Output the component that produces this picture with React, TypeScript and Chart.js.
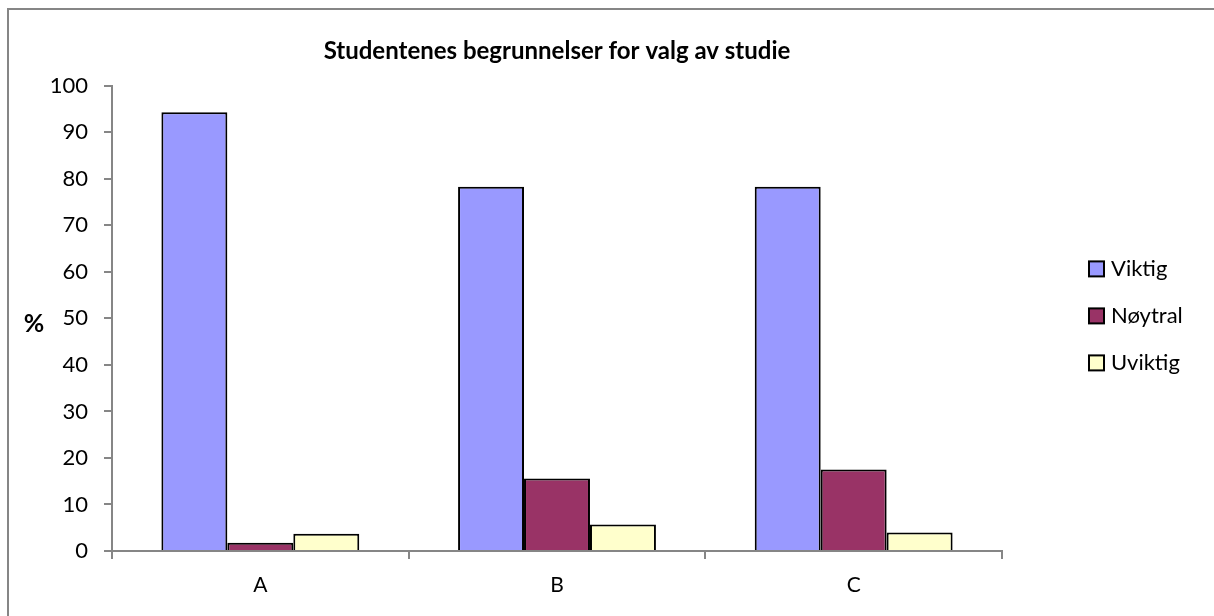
import React, { useEffect, useRef } from "react";
import { Chart, registerables } from "chart.js";

Chart.register(...registerables);

const categories = ["A", "B", "C"];
const seriesNames = ["Viktig", "Nøytral", "Uviktig"];
const viktig = [94.3, 78.3, 78.3];
const noytral = [1.8, 15.6, 17.5];
const uviktig = [3.7, 5.7, 4.0];
const seriesColors = ["#9999FF", "#993366", "#FFFFCC"];
const titleText = "Studentenes begrunnelser for valg av studie";
const yTitle = "%";

const FONT = "Lato, 'Open Sans', sans-serif";
const AXIS = "#868686";

const overlayPlugin = {
  id: "overlay",
  afterDraw(chart: any) {
    const { ctx, chartArea } = chart;
    const mid = (chartArea.top + chartArea.bottom) / 2;
    ctx.save();
    // y title (horizontal)
    ctx.font = `bold 25px ${FONT}`;
    ctx.fillStyle = "#000";
    ctx.textAlign = "center";
    ctx.textBaseline = "middle";
    ctx.fillText(yTitle, 34, mid + 6);
    // legend
    const boxX = chartArea.right + 87;
    ctx.font = `22px ${FONT}`;
    ctx.textAlign = "left";
    seriesNames.forEach((name, i) => {
      const cy = mid - 50 + i * 47;
      ctx.fillStyle = seriesColors[i];
      ctx.fillRect(boxX, cy - 7, 15, 15);
      ctx.lineWidth = 2;
      ctx.strokeStyle = "#000";
      ctx.strokeRect(boxX, cy - 7, 15, 15);
      ctx.fillStyle = "#000";
      ctx.fillText(name, boxX + 22, cy + 1);
    });
    ctx.restore();
  },
};

export default function App() {
  const ref = useRef<HTMLCanvasElement | null>(null);
  useEffect(() => {
    if (!ref.current) return;
    const values = [viktig, noytral, uviktig];
    const chart = new Chart(ref.current, {
      type: "bar",
      data: {
        labels: categories,
        datasets: seriesNames.map((name, i) => ({
          label: name,
          data: values[i],
          backgroundColor: seriesColors[i],
          borderColor: "#000",
          borderWidth: 2,
          categoryPercentage: 0.667,
          barPercentage: 1,
        })),
      },
      options: {
        responsive: false,
        animation: false,
        layout: { padding: { left: 0, right: 212, top: 0, bottom: 0 } },
        plugins: {
          legend: { display: false },
          tooltip: { enabled: false },
          title: {
            display: true,
            text: titleText,
            fullSize: false,
            color: "#000",
            font: { family: FONT, size: 24, weight: "bold" },
            padding: { top: 37, bottom: 20 },
          },
        },
        scales: {
          x: {
            grid: {
              drawOnChartArea: false,
              drawTicks: true,
              tickLength: 8,
              color: AXIS,
              lineWidth: 2,
            },
            border: { color: AXIS, width: 2 },
            ticks: { color: "#000", font: { family: FONT, size: 21 }, padding: 14 },
            afterFit(scale: any) {
              scale.height = 65;
            },
          },
          y: {
            min: 0,
            max: 100,
            ticks: {
              stepSize: 10,
              color: "#000",
              font: { family: FONT, size: 22 },
              padding: 16,
            },
            grid: {
              drawOnChartArea: false,
              drawTicks: true,
              tickLength: 8,
              color: AXIS,
              lineWidth: 2,
            },
            border: { color: AXIS, width: 2 },
            afterFit(scale: any) {
              scale.width = 112;
            },
          },
        },
      },
      plugins: [overlayPlugin],
    });
    return () => chart.destroy();
  }, []);

  return (
    <div style={{ position: "absolute", left: 0, top: 0, width: 1214, height: 616, overflow: "hidden", background: "#fff" }}>
      <div
        style={{
          position: "absolute",
          left: 7,
          top: 8,
          width: 1220,
          height: 620,
          borderLeft: `2px solid ${AXIS}`,
          borderTop: `2px solid ${AXIS}`,
        }}
      />
      <canvas
        ref={ref}
        width={1214}
        height={616}
        style={{ position: "absolute", left: 0, top: 0, width: 1214, height: 616 }}
      />
    </div>
  );
}
